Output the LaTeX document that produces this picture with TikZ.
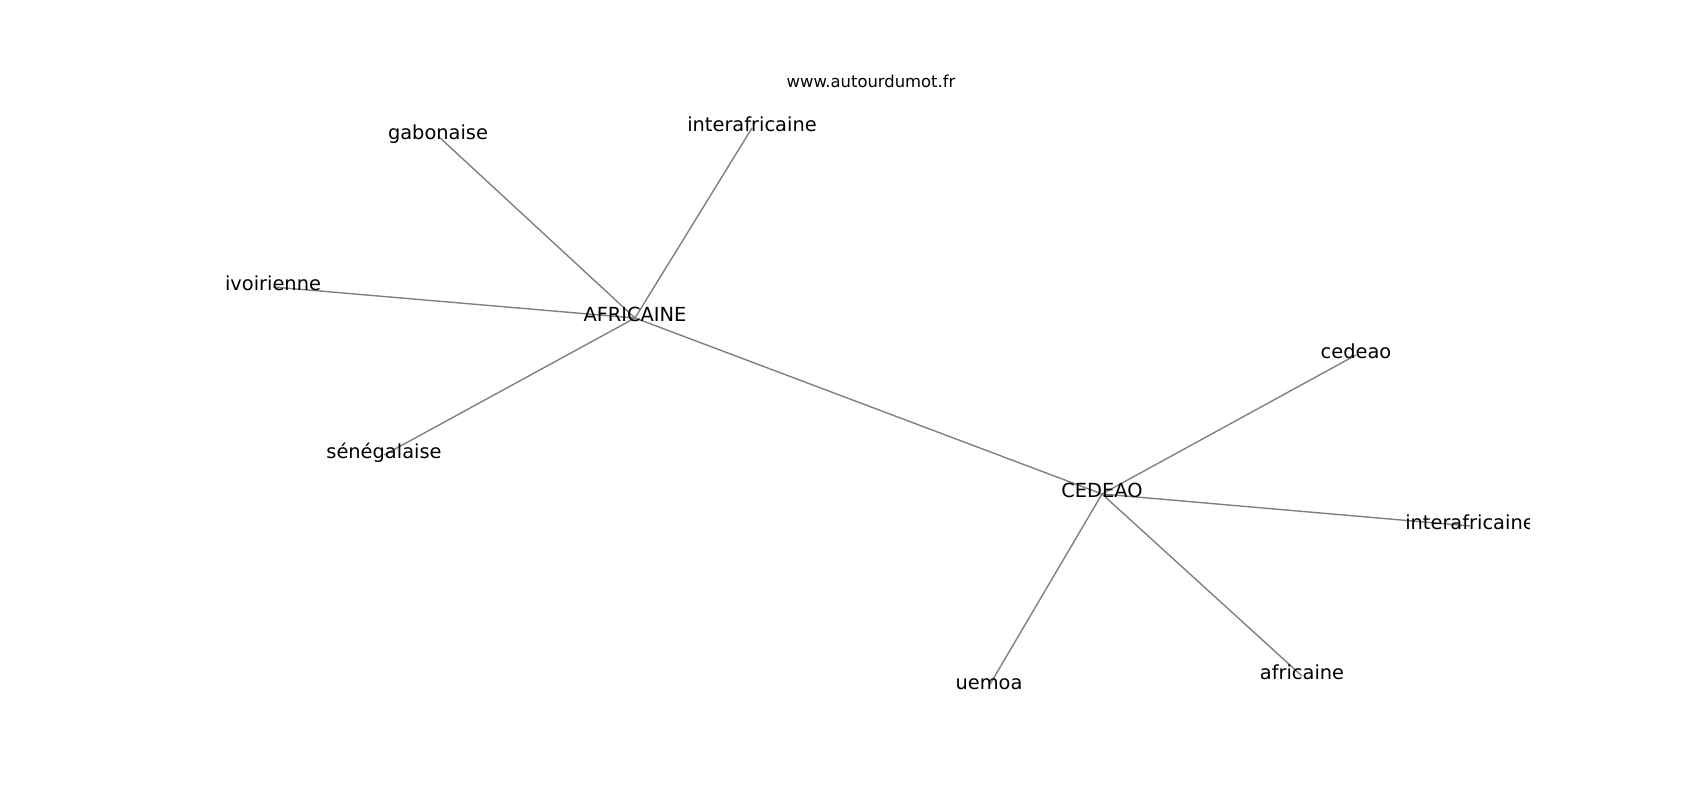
\documentclass[tikz,border=0pt]{standalone}
\usepackage{fontspec}
\setmainfont{DejaVu Sans}
\usetikzlibrary{backgrounds}
\begin{document}
\begin{tikzpicture}[x=1pt,y=-1pt,
	every node/.style={inner sep=0,text height=0.93em,text depth=0.24em,
	font=\fontsize{19.4}{23}\selectfont},
	link/.style={draw=gray,line width=1.4pt}]
\useasboundingbox (0,0) rectangle (1700,800);
\node (site) at (871,84) [font=\fontsize{16.4}{19}\selectfont] {www.autourdumot.fr};
% first star
\node (africaine) at (635,318) {AFRICAINE};
\node (gabonaise) at (438,136) {gabonaise};
\node (interA) at (752,128) {interafricaine};
\node (ivoirienne) at (273,287) {ivoirienne};
\node (senegalaise) at (384,455) {sénégalaise};
% second star
\node (cedeao) at (1102,494) {CEDEAO};
\node (cedeaoL) at (1356,355) {cedeao};
\node (uemoa) at (989,686) {uemoa};
\node (africaineL) at (1302,676) {africaine};
\begin{scope}
\clip (0,0) rectangle (1529,800);
\node (interC) at (1470,526) {interafricaine};
\end{scope}
\begin{scope}[on background layer]
\foreach \w in {gabonaise,interA,ivoirienne,senegalaise,cedeao}
	\draw[link] (africaine.center) -- (\w.center);
\foreach \w in {cedeaoL,interC,uemoa,africaineL}
	\draw[link] (cedeao.center) -- (\w.center);
\end{scope}
\end{tikzpicture}
\end{document}
